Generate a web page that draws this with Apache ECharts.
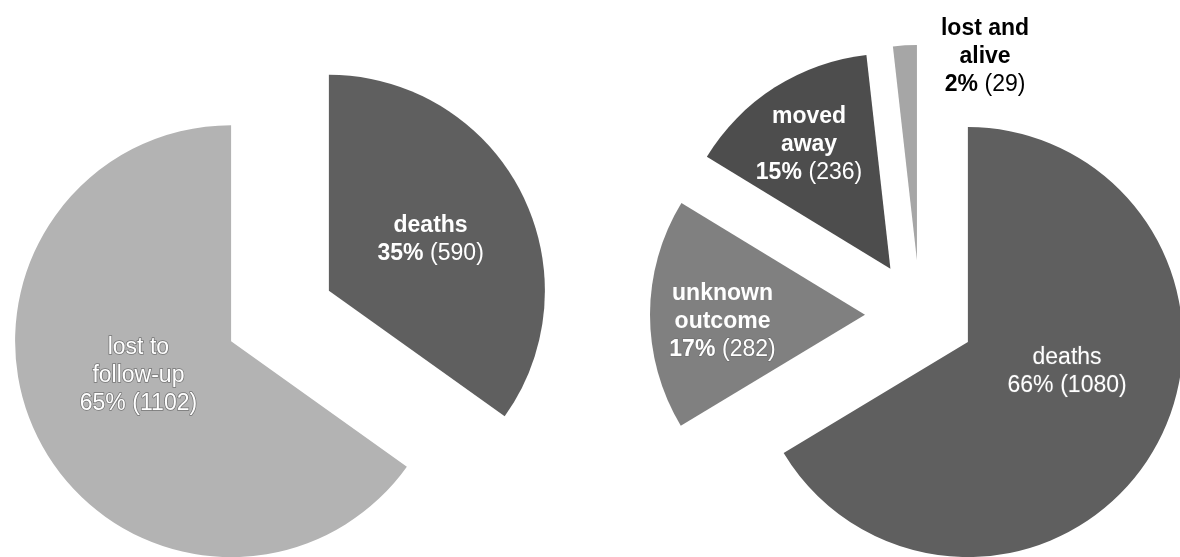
<!DOCTYPE html>
<html>
<head>
<meta charset="utf-8">
<script src="https://cdn.jsdelivr.net/npm/echarts@6/dist/echarts.min.js"></script>
<style>
  html, body { margin: 0; padding: 0; background: #ffffff; }
  #chart { width: 1180px; height: 557px; }
</style>
</head>
<body>
<div id="chart"></div>
<script>
// ---- data ----
const leftNames = ['deaths', 'lost to\nfollow-up'];
const leftValues = [590, 1102];
const rightNames = ['deaths', 'unknown\noutcome', 'moved\naway', 'lost and\nalive'];
const rightValues = [1080, 282, 236, 29];

// ---- styles ----
const leftColors = ['#5f5f5f', '#b3b3b3'];
const rightColors = ['#5f5f5f', '#808080', '#4d4d4d', '#a6a6a6'];
// label style per slice: 'solid' (white bold), 'outline' (embossed light text), 'mixed', 'dark' (black outside)
const leftLabelKind = ['solid', 'outline'];
const rightLabelKind = ['outline', 'mixed', 'solid', 'dark'];
// label nudges (px) relative to the default label position
const leftLabelShift = [[3, 0], [6, -16]];
const rightLabelShift = [[3, -25], [-32, 7], [-22, -31], [116, 26]];

const FONT = '"Liberation Sans", Arial, sans-serif';
const FS = 23;
const LH = 28;

function rich() {
  const outline = { color: '#ffffff', textBorderColor: 'rgba(110,110,110,0.9)', textBorderWidth: 1.5 };
  const base = { fontFamily: FONT, fontSize: FS, lineHeight: LH };
  return {
    nb: Object.assign({ fontWeight: 'bold', color: '#ffffff' }, base),
    pb: Object.assign({ fontWeight: 'bold', color: '#ffffff' }, base),
    cw: Object.assign({ fontWeight: 'normal', color: '#ffffff' }, base),
    no: Object.assign({ fontWeight: 'normal' }, base, outline),
    po: Object.assign({ fontWeight: 'bold' }, base, outline),
    co: Object.assign({ fontWeight: 'normal' }, base, outline),
    nk: Object.assign({ fontWeight: 'bold', color: '#000000' }, base),
    pk: Object.assign({ fontWeight: 'bold', color: '#000000' }, base),
    ck: Object.assign({ fontWeight: 'normal', color: '#000000' }, base)
  };
}

function makeFormatter(kinds) {
  return function (p) {
    const kind = kinds[p.dataIndex];
    const pct = Math.round(p.percent) + '%';
    const cnt = '(' + p.value + ')';
    const lines = p.name.split('\n');
    let n, pc, c;
    if (kind === 'solid') { n = 'nb'; pc = 'pb'; c = 'cw'; }
    else if (kind === 'outline') { n = 'no'; pc = 'co'; c = 'co'; }
    else if (kind === 'mixed') { n = 'nb'; pc = 'po'; c = 'co'; }
    else { n = 'nk'; pc = 'pk'; c = 'ck'; }
    return lines.map(l => '{' + n + '|' + l + '}').join('\n') +
      '\n{' + pc + '|' + pct + '}  {' + c + '|' + cnt + '}';
  };
}

function buildData(names, values, colors, kinds) {
  return names.map((n, i) => {
    const d = {
      name: n,
      value: values[i],
      selected: true,
      itemStyle: { color: colors[i] },
      select: { itemStyle: { color: colors[i] } }
    };
    if (kinds[i] === 'dark') {
      d.label = { position: 'outside' };
      d.labelLine = { show: false };
    }
    return d;
  });
}

function makeLayout(shifts) {
  return function (p) {
    const s = shifts[p.dataIndex];
    return { dx: s[0], dy: s[1], align: 'center', hideOverlap: false, moveOverlap: false };
  };
}

const chart = echarts.init(document.getElementById('chart'), null, { renderer: 'canvas' });
chart.setOption({
  animation: false,
  backgroundColor: '#ffffff',
  series: [
    {
      type: 'pie',
      center: [280, 316],
      radius: [0, 216],
      startAngle: 90,
      clockwise: true,
      selectedMode: 'multiple',
      selectedOffset: 55,
      silent: true,
      avoidLabelOverlap: false,
      label: {
        show: true,
        position: 'inside',
        align: 'center',
        formatter: makeFormatter(leftLabelKind),
        rich: rich()
      },
      labelLine: { show: false },
      labelLayout: makeLayout(leftLabelShift),
      data: buildData(leftNames, leftValues, leftColors, leftLabelKind)
    },
    {
      type: 'pie',
      center: [920, 315],
      radius: [0, 215],
      startAngle: 90,
      clockwise: true,
      selectedMode: 'multiple',
      selectedOffset: 55,
      silent: true,
      avoidLabelOverlap: false,
      label: {
        show: true,
        position: 'inside',
        align: 'center',
        formatter: makeFormatter(rightLabelKind),
        rich: rich()
      },
      labelLine: { show: false },
      labelLayout: makeLayout(rightLabelShift),
      data: buildData(rightNames, rightValues, rightColors, rightLabelKind)
    }
  ]
});
</script>
</body>
</html>
